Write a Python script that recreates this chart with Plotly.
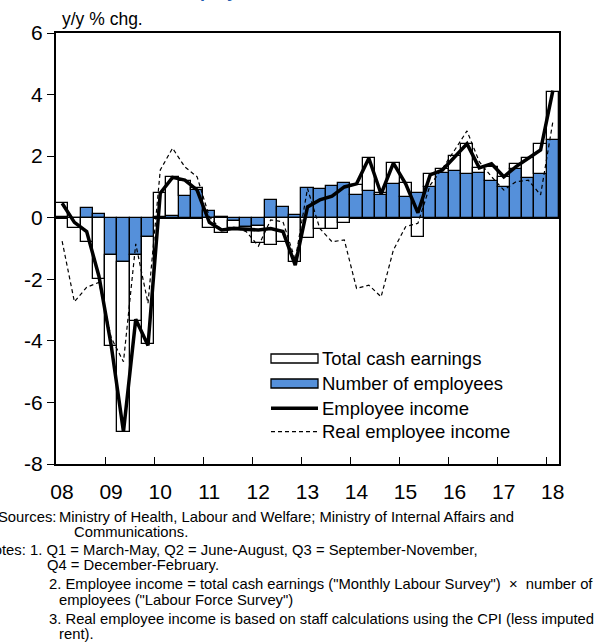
import plotly.graph_objects as go

quarters = ["08Q1","08Q2","08Q3","08Q4","09Q1","09Q2","09Q3","09Q4","10Q1","10Q2","10Q3","10Q4",
            "11Q1","11Q2","11Q3","11Q4","12Q1","12Q2","12Q3","12Q4","13Q1","13Q2","13Q3","13Q4",
            "14Q1","14Q2","14Q3","14Q4","15Q1","15Q2","15Q3","15Q4","16Q1","16Q2","16Q3","16Q4",
            "17Q1","17Q2","17Q3","17Q4","18Q1"]

number_of_employees = [0.02, 0.00, 0.30, 0.12, -1.21, -1.44, -1.21, -0.63, 0.02, 0.06, 0.69, 0.90,
                       0.23, 0.03, -0.12, -0.30, -0.28, 0.57, 0.36, 0.08, 0.98, 0.92, 1.04, 1.12,
                       0.74, 0.88, 0.74, 1.10, 0.66, 0.79, 1.01, 1.44, 1.52, 1.41, 1.44, 1.19,
                       0.99, 1.58, 1.28, 1.42, 2.53]

total_cash_earnings = [0.47, -0.34, -0.78, -2.00, -2.95, -5.51, -2.13, -3.47, 0.78, 1.25, 0.49, 0.05,
                       -0.34, -0.50, -0.20, -0.08, -0.55, -0.89, -0.80, -1.43, -0.65, -0.38, -0.38, -0.18,
                       0.33, 1.05, 0.05, 0.68, 0.47, -0.62, 0.41, 0.14, 0.48, 0.98, 0.16, 0.47,
                       0.32, 0.15, 0.67, 0.98, 1.55]

employee_income = [0.47, -0.15, -0.45, -1.90, -4.15, -6.95, -3.30, -4.15, 0.80, 1.31, 1.22, 0.90,
                   -0.15, -0.40, -0.35, -0.37, -0.40, -0.35, -0.45, -1.54, 0.35, 0.58, 0.70, 1.00,
                   1.10, 1.93, 0.77, 1.77, 1.10, 0.16, 1.39, 1.55, 1.96, 2.40, 1.62, 1.75,
                   1.33, 1.66, 1.93, 2.20, 4.13]

real_employee_income = [-0.76, -2.73, -2.26, -2.10, -3.90, -4.68, -0.85, -2.78, 1.55, 2.26, 1.65, 1.33,
                        0.03, -0.40, -0.31, -0.45, -0.92, -0.07, -0.13, -1.37, 0.95, -0.35, -0.78, -0.72,
                        -2.30, -2.19, -2.57, -1.05, -0.29, -0.18, 1.06, 1.60, 2.20, 2.82, 1.82, 1.33,
                        0.90, 1.17, 1.22, 0.74, 3.12]

year_labels = ["08", "09", "10", "11", "12", "13", "14", "15", "16", "17", "18"]
y_ticks = [-8, -6, -4, -2, 0, 2, 4, 6]

x = list(range(len(quarters)))
year_tick_pos = [i - 0.5 for i in range(0, len(quarters), 4)]

FONT = "Liberation Sans, Arial, sans-serif"
BLUE = "#5590DA"

W, H = 595, 643
L, R, T, B = 56, 559, 33, 464

def px(xp):
    return (xp - L) / (R - L)

def py(yp):
    return (B - yp) / (B - T)

fig = go.Figure()
fig.add_trace(go.Bar(x=x, y=number_of_employees, name="Number of employees",
                     marker=dict(color=BLUE, line=dict(color="black", width=1.3)),
                     showlegend=False))
fig.add_trace(go.Bar(x=x, y=total_cash_earnings, name="Total cash earnings",
                     marker=dict(color="white", line=dict(color="black", width=1.3)),
                     showlegend=False))
fig.add_trace(go.Scatter(x=x, y=employee_income, mode="lines", name="Employee income",
                         line=dict(color="black", width=3.5), showlegend=False))
fig.add_trace(go.Scatter(x=x, y=real_employee_income, mode="lines", name="Real employee income",
                         line=dict(color="black", width=1.2, dash="4px,3px"), showlegend=False))

# manual legend (wide rectangles as in reference)
shapes = []
legend_rows = [
    ("Total cash earnings", "rect", "white", 358.5),
    ("Number of employees", "rect", BLUE, 383.5),
    ("Employee income", "line", "solid", 408.3),
    ("Real employee income", "line", "dash", 431.7),
]
annotations = []
for label, kind, style, yc in legend_rows:
    if kind == "rect":
        shapes.append(dict(type="rect", xref="paper", yref="paper",
                           x0=px(271), x1=px(318), y0=py(yc + 4.5), y1=py(yc - 4.5),
                           fillcolor=style, line=dict(color="black", width=1.3)))
    else:
        shapes.append(dict(type="line", xref="paper", yref="paper",
                           x0=px(271), x1=px(318), y0=py(yc), y1=py(yc),
                           line=dict(color="black", width=3.5 if style == "solid" else 1.2,
                                     dash="solid" if style == "solid" else "4px,3px")))
    annotations.append(dict(text=label, xref="paper", yref="paper", x=px(320), y=py(yc),
                            xanchor="left", yanchor="middle", showarrow=False,
                            font=dict(family=FONT, size=18.5, color="black")))

# unit label
annotations.append(dict(text="y/y % chg.", xref="paper", yref="paper", x=px(60), y=py(19),
                        xanchor="left", yanchor="middle", showarrow=False,
                        font=dict(family=FONT, size=17.5, color="black")))
# clipped title at the very top (only its lowest part shows, as in the reference)
annotations.append(dict(text="<b>Employee Income</b>", xref="paper", yref="paper", x=px(170), y=py(3),
                        xanchor="left", yanchor="bottom", showarrow=False,
                        font=dict(family=FONT, size=18, color="#1F5CB0")))

# footnotes: (text, x of anchor, y of centre, anchor)
notes = [
    ("Sources:", 58, 517, "right"),
    ("Ministry of Health, Labour and Welfare; Ministry of Internal Affairs and", 57, 517, "left"),
    ("Communications.", 72, 532, "left"),
    ("Notes:", 28, 550, "right"),
    ("1. Q1 = March-May, Q2 = June-August, Q3 = September-November,", 28, 550, "left"),
    ("Q4 = December-February.", 45, 565, "left"),
    ("2. Employee income = total cash earnings (\"Monthly Labour Survey\")  \u00d7  number of", 47, 584, "left"),
    ("employees (\"Labour Force Survey\")", 57, 600, "left"),
    ("3. Real employee income is based on staff calculations using the CPI (less imputed", 47, 619, "left"),
    ("rent).", 57, 634, "left"),
]
for txt, xp, yp, anc in notes:
    annotations.append(dict(text=txt, xref="paper", yref="paper", x=px(xp), y=py(yp),
                            xanchor=anc, yanchor="middle", showarrow=False,
                            font=dict(family=FONT, size=14.8, color="black")))

fig.update_layout(
    width=W, height=H,
    margin=dict(l=L, r=W - R, t=T, b=H - B, autoexpand=False),
    paper_bgcolor="white", plot_bgcolor="white",
    barmode="relative", bargap=0,
    showlegend=False,
    shapes=shapes, annotations=annotations,
    font=dict(family=FONT, color="black"),
)
fig.update_xaxes(range=[-0.5, len(quarters) - 0.5], tickmode="array",
                 tickvals=year_tick_pos, ticktext=year_labels, automargin=False,
                 ticks="inside", ticklen=7, tickwidth=1.3, tickcolor="black",
                 showline=True, linecolor="black", linewidth=2, mirror=True,
                 showgrid=False, zeroline=False, ticklabelshift=6, ticklabelstandoff=8,
                 tickfont=dict(family=FONT, size=21, color="black"))
fig.update_yaxes(range=[-8, 6], tickmode="array", tickvals=y_ticks, ticktext=[str(v) for v in y_ticks],
                 ticks="outside", ticklen=7, tickwidth=1.3, tickcolor="black", automargin=False,
                 showline=True, linecolor="black", linewidth=2, mirror=True,
                 showgrid=False, zeroline=True, zerolinecolor="black", zerolinewidth=2,
                 tickfont=dict(family=FONT, size=21, color="black"))

fig.write_html("out.html", config={"displayModeBar": False},
               post_script="document.body.style.margin='0px';")
